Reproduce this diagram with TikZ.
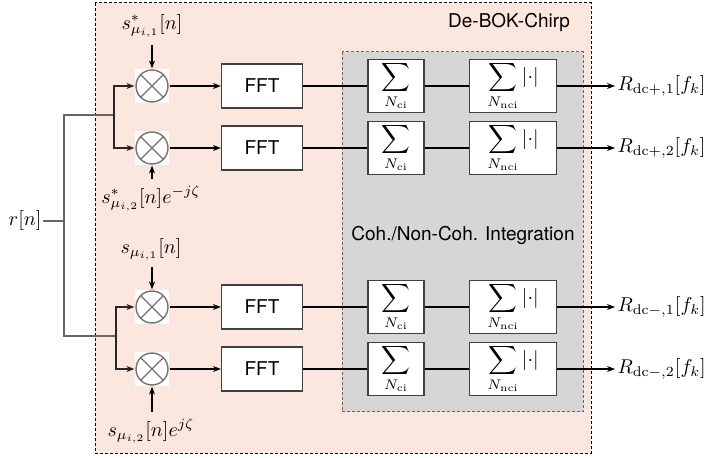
\documentclass[tikz,border=0pt]{standalone}
\usepackage{fontspec}
\usepackage{amsmath}
\usetikzlibrary{arrows.meta}
\newfontfamily\helv{TeX Gyre Heros}
\definecolor{peach}{HTML}{FBE7DD}
\definecolor{intgray}{HTML}{D6D6D6}
\begin{document}
\begin{tikzpicture}[x=0.5pt, y=-0.5pt, >={Stealth[length=4pt, width=3pt]}, line width=0.6pt,
	blk/.style={draw=black!75, fill=white, inner sep=0pt},
	fftbox/.style={blk, minimum width=40.5pt, minimum height=22pt, font=\helv\fontsize{9.5}{11}\selectfont},
	cibox/.style={blk, minimum width=28pt, minimum height=26.5pt},
	ncibox/.style={blk, minimum width=43.5pt, minimum height=26.5pt},
	mixer/.style={fill=white, minimum size=17pt, inner sep=0pt, path picture={
		\draw[black!55, line width=0.7pt] (path picture bounding box.center) circle (8pt);
		\draw[black!55, line width=0.7pt] ([shift={(45:8pt)}]path picture bounding box.center) -- ([shift={(225:8pt)}]path picture bounding box.center);
		\draw[black!55, line width=0.7pt] ([shift={(135:8pt)}]path picture bounding box.center) -- ([shift={(315:8pt)}]path picture bounding box.center);}},
	lbl/.style={font=\helv\fontsize{9.5}{11}\selectfont}]
	\useasboundingbox (0,0) rectangle (727,458);
	
	% frames
	\draw[dash pattern=on 1.5pt off 1pt, line width=0.5pt, fill=peach] (95,3) rectangle (591,453);
	\node[lbl] (title) at (509,22) {De-BOK-Chirp};
	\draw[dash pattern=on 1.5pt off 1pt, line width=0.5pt, draw=black!60, fill=intgray] (342,52) rectangle (583,412);
	\node[lbl] (integ) at (463,235) {Coh./Non-Coh. Integration};
	
	% four branches
	\foreach \i/\y/\s/\k in {1/86/+/1, 2/148/+/2, 3/307/-/1, 4/369/-/2} {
		\node[mixer] (m\i) at (152,\y) {};
		\node[fftbox] (fft\i) at (262,\y) {FFT};
		\node[cibox] (ci\i) at (396,\y) {$\displaystyle\sum_{N_\mathrm{ci}}$};
		\node[ncibox] (nci\i) at (513,\y) {$\displaystyle\sum_{N_\mathrm{nci}}|{\cdot}|$};
		\node[anchor=west, inner sep=1pt] (out\i) at (615,\y) {$R_{\mathrm{dc}\s,\k}[f_k]$};
		\draw[->] (m\i) -- (fft\i);
		\draw (fft\i) -- (ci\i) -- (nci\i);
		\draw[->] (nci\i) -- (out\i);
	}
	
	% reference signals
	\node (s1) at (152,26) {$s^*_{\mu_{i,1}}[n]$};
	\node (s2) at (151,199) {$s^*_{\mu_{i,2}}[n]e^{-j\zeta}$};
	\node (s3) at (151,249) {$s_{\mu_{i,1}}[n]$};
	\node (s4) at (151,431) {$s_{\mu_{i,2}}[n]e^{j\zeta}$};
	\draw[->] (s1.south -| m1) -- (m1);
	\draw[->] (s2.north -| m2) -- (m2);
	\draw[->] (s3.south -| m3) -- (m3);
	\draw[->] (s4.north -| m4) -- (m4);
	
	% input split
	\node[anchor=east, inner sep=0.5pt] (r) at (43,221) {$r[n]$};
	\coordinate (split) at (64,221);
	\coordinate (up) at (114,115);
	\coordinate (dn) at (116,336);
	\draw[black!60] (r.east) -- (split);
	\draw[black!60] (split) |- (up);
	\draw[black!60] (split) |- (dn);
	\draw[->, black!85] (up) |- (m1.west);
	\draw[->, black!85] (up) |- (m2.west);
	\draw[->, black!85] (dn) |- (m3.west);
	\draw[->, black!85] (dn) |- (m4.west);
\end{tikzpicture}
\end{document}
